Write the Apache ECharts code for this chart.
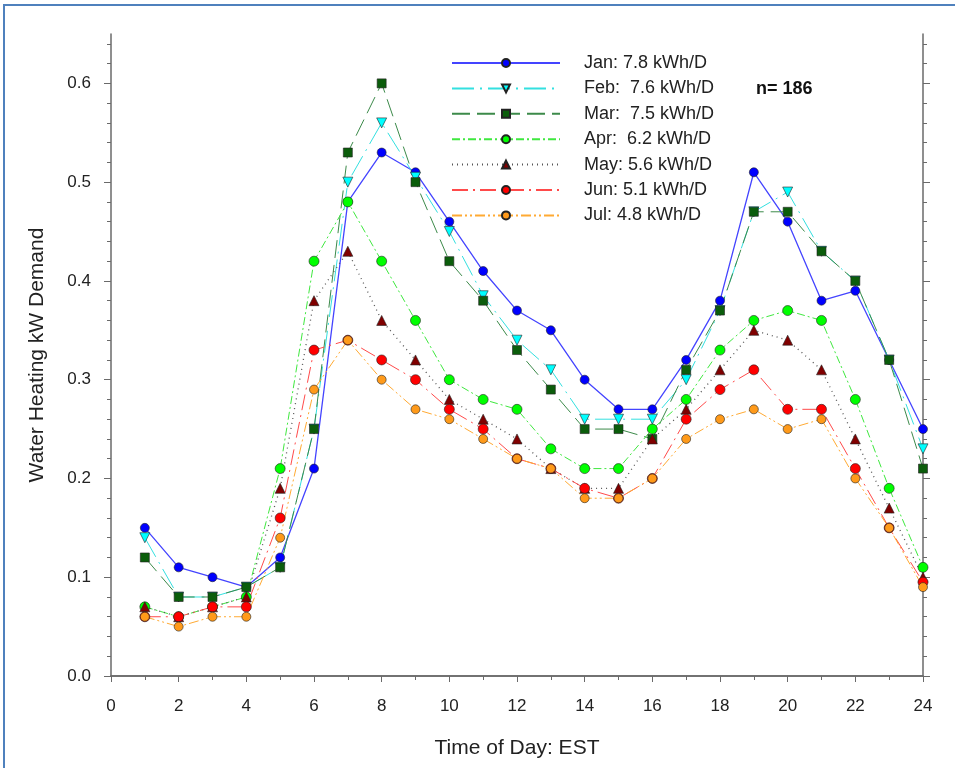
<!DOCTYPE html>
<html>
<head>
<meta charset="utf-8">
<title>Water Heating kW Demand</title>
<script src="https://cdn.jsdelivr.net/npm/echarts@6/dist/echarts.min.js"></script>
<style>
  html, body { margin: 0; padding: 0; background: #fff; }
  #chart { width: 955px; height: 768px; }
</style>
</head>
<body>
<div id="chart"></div>
<script>
// hours of day (EST)
const hours = [1, 2, 3, 4, 5, 6, 7, 8, 9, 10, 11, 12, 13, 14, 15, 16, 17, 18, 19, 20, 21, 22, 23, 24]

// monthly average profiles, kW
const jan = [0.15, 0.11, 0.10, 0.09, 0.12, 0.21, 0.48, 0.53, 0.51, 0.46, 0.41, 0.37, 0.35, 0.30, 0.27, 0.27, 0.32, 0.38, 0.51, 0.46, 0.38, 0.39, 0.32, 0.25]
const feb = [0.14, 0.08, 0.08, 0.09, 0.11, 0.25, 0.50, 0.56, 0.505, 0.45, 0.385, 0.34, 0.31, 0.26, 0.26, 0.26, 0.30, 0.37, 0.47, 0.49, 0.43, 0.40, 0.32, 0.23]
const mar = [0.12, 0.08, 0.08, 0.09, 0.11, 0.25, 0.53, 0.60, 0.50, 0.42, 0.38, 0.33, 0.29, 0.25, 0.25, 0.24, 0.31, 0.37, 0.47, 0.47, 0.43, 0.40, 0.32, 0.21]
const apr = [0.07, 0.06, 0.07, 0.08, 0.21, 0.42, 0.48, 0.42, 0.36, 0.30, 0.28, 0.27, 0.23, 0.21, 0.21, 0.25, 0.28, 0.33, 0.36, 0.37, 0.36, 0.28, 0.19, 0.11]
const may = [0.07, 0.06, 0.07, 0.08, 0.19, 0.38, 0.43, 0.36, 0.32, 0.28, 0.26, 0.24, 0.21, 0.19, 0.19, 0.24, 0.27, 0.31, 0.35, 0.34, 0.31, 0.24, 0.17, 0.10]
const jun = [0.06, 0.06, 0.07, 0.07, 0.16, 0.33, 0.34, 0.32, 0.30, 0.27, 0.25, 0.22, 0.21, 0.19, 0.18, 0.20, 0.26, 0.29, 0.31, 0.27, 0.27, 0.21, 0.15, 0.095]
const jul = [0.06, 0.05, 0.06, 0.06, 0.14, 0.29, 0.34, 0.30, 0.27, 0.26, 0.24, 0.22, 0.21, 0.18, 0.18, 0.20, 0.24, 0.26, 0.27, 0.25, 0.26, 0.20, 0.15, 0.09]

const legendNames = ['Jan: 7.8 kWh/D', 'Feb:  7.6 kWh/D', 'Mar:  7.5 kWh/D', 'Apr:  6.2 kWh/D', 'May: 5.6 kWh/D', 'Jun: 5.1 kWh/D', 'Jul: 4.8 kWh/D']

// y tick values
const yMajorTicks = [0, 0.1, 0.2, 0.3, 0.4, 0.5, 0.6]
const yMinorTicks = [0.02, 0.04, 0.06, 0.08, 0.12, 0.14, 0.16, 0.18, 0.22, 0.24, 0.26, 0.28, 0.32, 0.34, 0.36, 0.38, 0.42, 0.44, 0.46, 0.48, 0.52, 0.54, 0.56, 0.58, 0.62, 0.64]

const font = 'Liberation Sans, Arial, sans-serif'
const axisColor = '#6a6a6a'

const pairs = (vals) => hours.map((h, i) => [h, vals[i]])

const makeSeries = (name, vals, symbol, size, fill, lineColor, dash, width) => ({
  name: name,
  type: 'line',
  data: pairs(vals),
  symbol: symbol,
  symbolSize: size,
  itemStyle: { color: fill, borderColor: '#222', borderWidth: 0.6 },
  lineStyle: { color: lineColor, type: dash, width: width || 1 },
  emphasis: { disabled: true }
})

const myChart = echarts.init(document.getElementById('chart'))
const yTickAxis = (pos, values, len, showLine) => ({
  type: 'value',
  position: pos,
  min: 0,
  max: 0.65,
  axisLine: { show: showLine, lineStyle: { color: axisColor, width: 1.5 } },
  axisTick: { show: true, length: len, customValues: values, lineStyle: { color: axisColor } },
  axisLabel: { show: false },
  splitLine: { show: false }
})

const option = {
  animation: false,
  backgroundColor: '#fff',
  grid: { left: 111, right: 32, top: 34, bottom: 92, containLabel: false },
  graphic: [
    {
      type: 'rect',
      shape: { x: 4, y: 5, width: 1000, height: 1000 },
      style: { fill: 'none', stroke: '#4f81bd', lineWidth: 2 },
      silent: true
    },
    {
      type: 'text',
      left: 756,
      top: 80,
      style: { text: 'n= 186', font: 'bold 18px Liberation Sans, Arial, sans-serif', fill: '#111' }
    }
  ],
  legend: {
    data: legendNames,
    orient: 'vertical',
    left: 446,
    top: 49,
    itemWidth: 108,
    itemHeight: 10,
    itemGap: 7.4,
    selectedMode: false,
    textStyle: { fontSize: 18, color: '#222', fontFamily: font, padding: [0, 0, 0, 19] }
  },
  xAxis: [
    {
      type: 'value',
      min: 0,
      max: 24,
      interval: 2,
      name: 'Time of Day: EST',
      nameLocation: 'middle',
      nameGap: 62,
      nameTextStyle: { fontSize: 21, color: '#222', fontFamily: font },
      axisLine: { lineStyle: { color: axisColor, width: 1.5 } },
      axisTick: { length: 6, lineStyle: { color: axisColor } },
      minorTick: { show: true, splitNumber: 2, length: 4, lineStyle: { color: axisColor } },
      axisLabel: { fontSize: 17, color: '#222', fontFamily: font, margin: 22 },
      splitLine: { show: false }
    },
    {
      type: 'value',
      position: 'top',
      min: 0,
      max: 24,
      axisLine: { show: true, lineStyle: { color: axisColor, width: 1.5 } },
      axisTick: { show: false },
      axisLabel: { show: false },
      splitLine: { show: false }
    }
  ],
  yAxis: [
    {
      type: 'value',
      position: 'left',
      min: 0,
      max: 0.65,
      name: 'Water Heating kW Demand',
      nameLocation: 'middle',
      nameGap: 63,
      nameTextStyle: { fontSize: 21, color: '#222', fontFamily: font },
      axisLine: { show: true, lineStyle: { color: axisColor, width: 1.5 } },
      axisTick: { show: true, length: 7, customValues: yMajorTicks, lineStyle: { color: axisColor } },
      axisLabel: {
        customValues: yMajorTicks,
        fontSize: 17,
        color: '#222',
        fontFamily: font,
        margin: 20,
        formatter: (v) => v.toFixed(1)
      },
      splitLine: { show: false }
    },
    yTickAxis('left', yMinorTicks, 4, false),
    yTickAxis('right', yMajorTicks, 7, true),
    yTickAxis('right', yMinorTicks, 4, false)
  ],
  series: [
    makeSeries(legendNames[0], jan, 'circle', 9, '#0000ff', '#4444ff', 'solid', 1.3),
    makeSeries(legendNames[1], feb, 'triangle', 10, '#00ffff', '#33e0e0', [22, 6, 2, 6]),
    makeSeries(legendNames[2], mar, 'rect', 9, '#0b5d0b', '#3c8a4a', [18, 7]),
    makeSeries(legendNames[3], apr, 'circle', 10, '#00ff00', '#3fe83f', [8, 3, 2, 3]),
    makeSeries(legendNames[4], may, 'triangle', 10, '#800000', '#555555', [1, 4], 1.3),
    makeSeries(legendNames[5], jun, 'circle', 10, '#ff0000', '#ff4a4a', [16, 5, 2, 5]),
    makeSeries(legendNames[6], jul, 'circle', 9, '#ff9a1a', '#ffaa33', [10, 3, 2, 3, 2, 3])
  ]
}
// Feb marker points down
option.series[1].symbolRotate = 180

myChart.setOption(option)
window.addEventListener('resize', () => {
  myChart.resize()
})
</script>
</body>
</html>
